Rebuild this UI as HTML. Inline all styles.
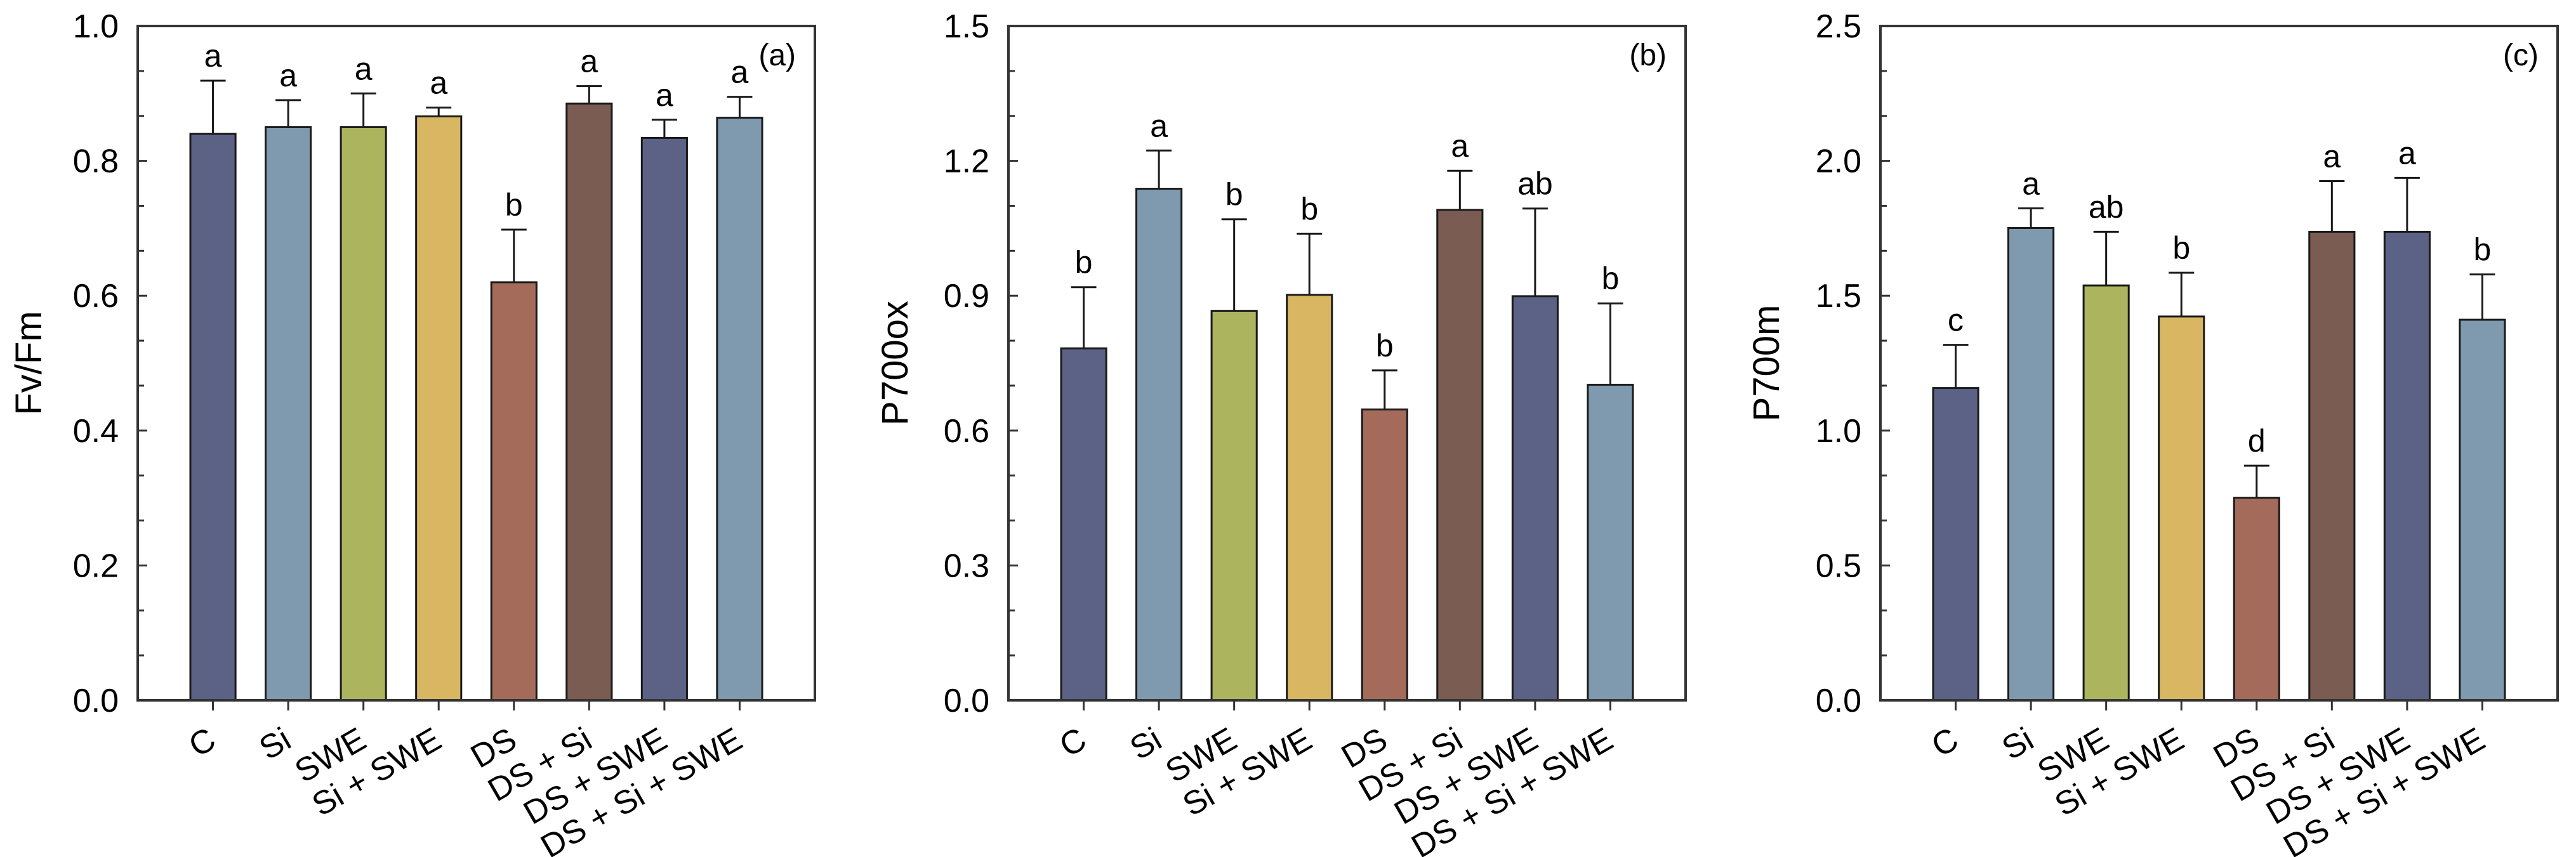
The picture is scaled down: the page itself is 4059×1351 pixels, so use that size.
<!DOCTYPE html>
<html><head><meta charset="utf-8"><style>
html,body{margin:0;padding:0;background:#fff}
svg{display:block}
text{font-family:"Liberation Sans",Arial,sans-serif;fill:#000}
</style></head><body>
<svg id="fig" width="4059" height="1351" viewBox="0 0 4059 1351" xmlns="http://www.w3.org/2000/svg"></svg>
<script>
const categories = ["C","Si","SWE","Si + SWE","DS","DS + Si","DS + SWE","DS + Si + SWE"];
const barColors = ["#5b6285","#7f99ae","#adb45e","#d8b662","#a56b5a","#7a5c52","#5b6285","#7f99ae"];
const fvfmValues = [0.840,0.850,0.850,0.866,0.620,0.885,0.834,0.864];
const fvfmErrors = [0.079,0.040,0.050,0.013,0.078,0.026,0.027,0.031];
const fvfmLetters = ["a","a","a","a","b","a","a","a"];
const p700oxValues = [0.783,1.138,0.866,0.902,0.647,1.091,0.899,0.702];
const p700oxErrors = [0.136,0.085,0.204,0.136,0.087,0.087,0.195,0.181];
const p700oxLetters = ["b","a","b","b","b","a","ab","b"];
const p700mValues = [1.158,1.751,1.538,1.423,0.751,1.737,1.737,1.411];
const p700mErrors = [0.160,0.073,0.199,0.162,0.119,0.188,0.200,0.168];
const p700mLetters = ["c","a","ab","b","d","a","a","b"];
const fvfmTicks = ["0.0","0.2","0.4","0.6","0.8","1.0"];
const p700oxTicks = ["0.0","0.3","0.6","0.9","1.2","1.5"];
const p700mTicks = ["0.0","0.5","1.0","1.5","2.0","2.5"];

const NS="http://www.w3.org/2000/svg";
const svg=document.getElementById('fig');
function mk(tag,attrs,parent){const e=document.createElementNS(NS,tag);for(const k in attrs)e.setAttribute(k,attrs[k]);(parent||svg).appendChild(e);return e;}

const panels=[
 {id:"a",left:217,title:"Fv/Fm",titleX:45,vals:fvfmValues,errs:fvfmErrors,letters:fvfmLetters,ticks:fvfmTicks,max:1.0,major:0.2},
 {id:"b",left:1589,title:"P700ox",titleX:1410,vals:p700oxValues,errs:p700oxErrors,letters:p700oxLetters,ticks:p700oxTicks,max:1.5,major:0.3},
 {id:"c",left:2963,title:"P700m",titleX:2783,vals:p700mValues,errs:p700mErrors,letters:p700mLetters,ticks:p700mTicks,max:2.5,major:0.5}
];
const TOP=41,BOT=1104,W=1067;

panels.forEach(p=>{
  const g=mk('g',{});
  
  
  const L=p.left,R=p.left+W;
  const y=v=>BOT-(v/p.max)*(BOT-TOP);
  const x=i=>L+(i+1)/9*W;
  const bw=W/9*0.6;
  p.vals.forEach((v,i)=>{
    const r=mk('rect',{x:x(i)-bw/2,y:y(v),width:bw,height:BOT-y(v),fill:barColors[i],stroke:'#1a1a1a','stroke-width':3},g);
    
    
    const top=y(v+p.errs[i]);
    const eb=mk('path',{d:`M${x(i)} ${y(v)}V${top}M${x(i)-20} ${top}H${x(i)+20}`,stroke:'#1a1a1a','stroke-width':3,fill:'none'},g);
    
    
    const t=mk('text',{x:x(i),y:top-22,'text-anchor':'middle','font-size':50},g);
    t.textContent=p.letters[i];
    
    
    mk('line',{x1:x(i),x2:x(i),y1:BOT,y2:BOT+16,stroke:'#333','stroke-width':3},g);
    const xl=mk('text',{x:0,y:0,'text-anchor':'end','font-size':52,transform:`translate(${x(i)+8},${BOT+72}) rotate(-30)`},g);
    xl.textContent=categories[i];
    
    
  });
  for(let k=0;k<=15;k++){
    const v=k*p.major/3; const yy=y(v);
    const isMajor=k%3===0;
    mk('line',{x1:L,x2:L+(isMajor?15:10),y1:yy,y2:yy,stroke:'#333','stroke-width':3},g);
    if(isMajor){
      const t=mk('text',{x:L-30,y:yy+18,'text-anchor':'end','font-size':52},g);
      t.textContent=p.ticks[k/3];
      
      
    }
  }
  const fr=mk('rect',{x:L,y:TOP,width:W,height:BOT-TOP,fill:'none',stroke:'#333','stroke-width':4},g);
  
  
  const yt=mk('text',{x:0,y:0,'text-anchor':'middle','font-size':58,transform:`translate(${p.titleX+20},${(TOP+BOT)/2}) rotate(-90)`},g);
  yt.textContent=p.title;
  
  
  const pl=mk('text',{x:R-30,y:TOP+62,'text-anchor':'end','font-size':48},g);
  pl.textContent='('+p.id+')';
  
  
});
</script>
</body></html>
